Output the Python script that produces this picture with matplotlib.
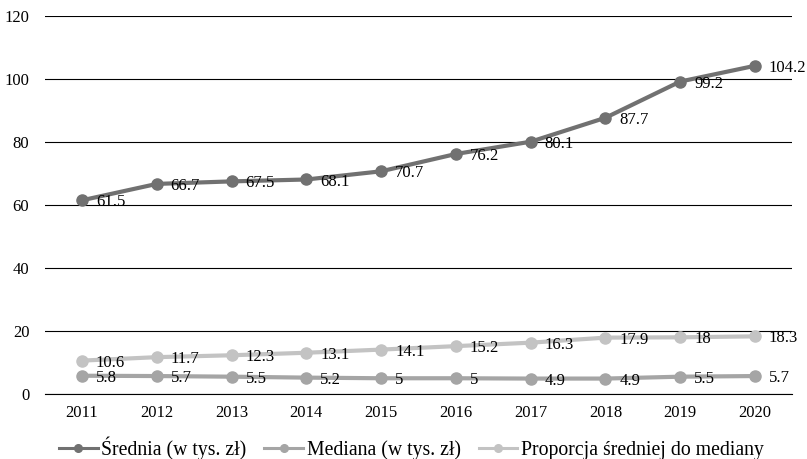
import matplotlib
matplotlib.use('Agg')
import matplotlib.pyplot as plt
import numpy as np

plt.rcParams['font.family'] = ['Liberation Serif', 'DejaVu Serif']

years = ['2011', '2012', '2013', '2014', '2015', '2016', '2017', '2018', '2019', '2020']
srednia = [61.5, 66.7, 67.5, 68.1, 70.7, 76.2, 80.1, 87.7, 99.2, 104.2]
mediana = [5.8, 5.7, 5.5, 5.2, 5, 5, 4.9, 4.9, 5.5, 5.7]
proporcja = [10.6, 11.7, 12.3, 13.1, 14.1, 15.2, 16.3, 17.9, 18, 18.3]

labels = ['Średnia (w tys. zł)', 'Mediana (w tys. zł)', 'Proporcja średniej do mediany']
colors = ['#717171', '#a5a5a5', '#c3c3c3']

fig = plt.figure(figsize=(8.07, 4.59), dpi=100)
ax = fig.add_axes([0.0553, 0.1416, 0.9266, 0.8235])

x = np.arange(len(years))
for vals, lab, col in zip([srednia, mediana, proporcja], labels, colors):
    ax.plot(x, vals, color=col, linewidth=3, marker='o', markersize=8, label=lab, zorder=3)
    for xi, v in zip(x, vals):
        ax.annotate(f'{v:g}', (xi, v), xytext=(10, -1.5), textcoords='offset points',
                    ha='left', va='center', fontsize=12, color='black', zorder=4)

ax.set_xlim(-0.5, len(years) - 0.5)
ax.set_ylim(0, 120)
ax.set_yticks(range(0, 121, 20))
ax.set_xticks(x)
ax.set_xticklabels(years)
ax.tick_params(length=0, labelsize=12)
ax.tick_params(axis='x', pad=8)
ax.tick_params(axis='y', pad=11)
ax.grid(axis='y', color='black', linewidth=0.8)
ax.set_axisbelow(True)
for s in ['top', 'right', 'left']:
    ax.spines[s].set_visible(False)
ax.spines['bottom'].set_color('black')
ax.spines['bottom'].set_linewidth(0.8)

leg = ax.legend(loc='center', bbox_to_anchor=(0.4906, -0.1435), ncol=3, frameon=False,
                fontsize=14.2, handlelength=1.95, columnspacing=0.9, handletextpad=0.2,
                borderpad=0, borderaxespad=0)
for ln in leg.get_lines():
    ln.set_linewidth(2.2)
    ln.set_markersize(5.5)

fig.savefig('out.png', dpi=100)
